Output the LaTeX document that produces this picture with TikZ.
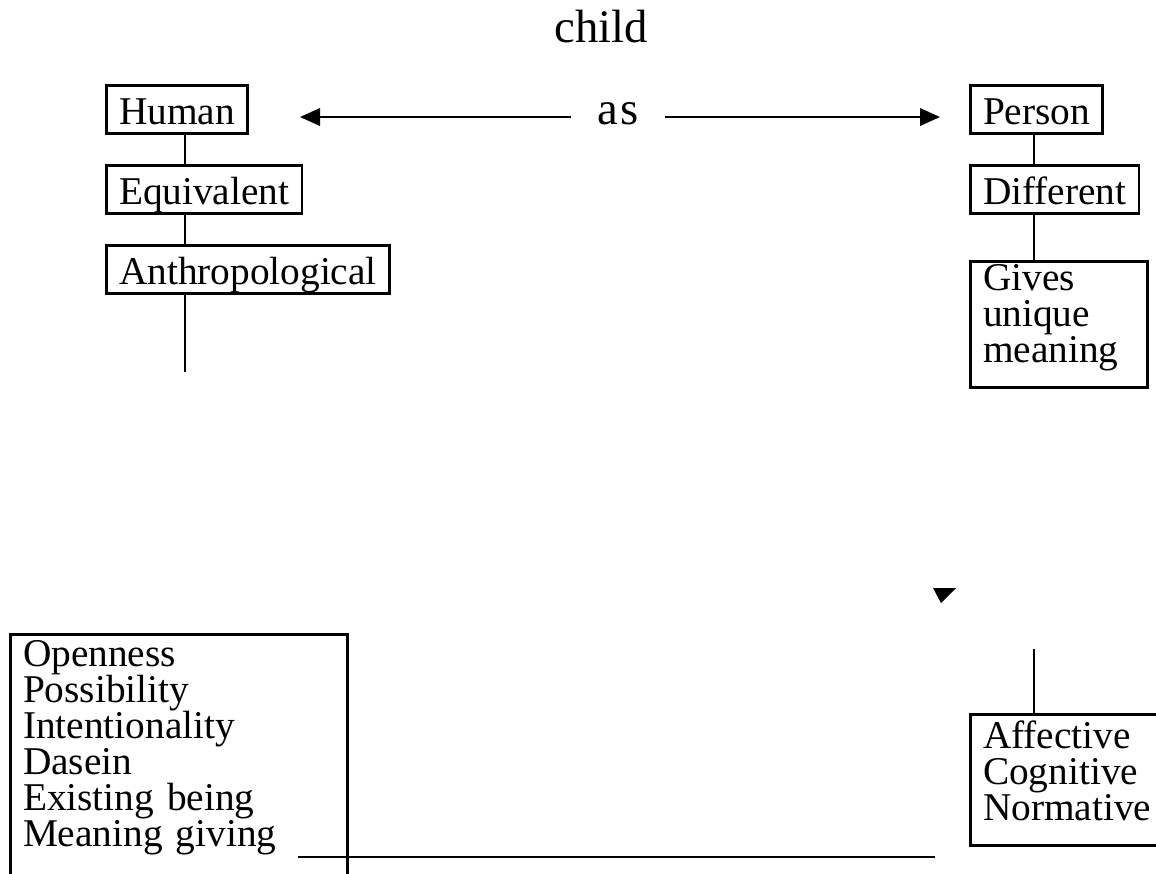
\documentclass[tikz,border=0pt]{standalone}
\usepackage{fontspec}
\setmainfont{Liberation Serif}
\usetikzlibrary{arrows.meta}

\tikzset{
  cbox/.style={draw, line width=2pt, anchor=north west, inner xsep=9.5pt,
    inner ysep=3pt, align=left, font=\fontsize{29.5}{27}\selectfont},
  onebox/.style={cbox, text height=26.25pt, text depth=3.75pt},
  headline/.style={inner sep=0pt, font=\fontsize{35}{35}\selectfont},
  link/.style={line width=2pt},
  tip/.style={-{Triangle[length=15pt,width=13pt]}}
}

\begin{document}
\begin{tikzpicture}[x=0.75pt,y=-0.75pt]
  \useasboundingbox (0,0) rectangle (1156,874);
  \node[headline] (child) at (601,27) {child};
  % left column
  \node[onebox] (human) at (105,84) {Human};
  \node[onebox] (equiv) at (105,164) {Equivalent};
  \node[onebox] (anthro) at (105,244) {Anthropological};
  % right column
  \node[onebox] (person) at (969,84) {Person};
  \node[onebox] (diff) at (969,164) {Different};
  \node[cbox, text width=114pt, inner ysep=2pt, text depth=71pt] (gives)
    at (969,260) {Gives\\unique\\meaning};
  \node[cbox, inner ysep=4.5pt, text depth=14.5pt] (affect) at (969,713)
    {Affective\\Cognitive\\Normative};
  % bottom left box
  \node[cbox, text width=234pt, inner ysep=4.5pt, text depth=175pt] (traits)
    at (9,633)
    {Openness\\Possibility\\Intentionality\\Dasein\\Existing being\\Meaning giving};
  % the 'as' double arrow
  \node[headline, inner xsep=20pt] (as) at (618,114) {a\kern1.5pt s};
  \coordinate (lhead) at (300,117);
  \coordinate (rhead) at (940,117);
  \draw[link,tip] (as.west |- lhead) -- (lhead);
  \draw[link,tip] (as.east |- rhead) -- (rhead);
  % spines
  \coordinate (lspine) at (185,0);
  \coordinate (rspine) at (1034,0);
  \draw[link] (human.south -| lspine) -- (equiv.north -| lspine);
  \draw[link] (equiv.south -| lspine) -- (anthro.north -| lspine);
  \coordinate (lstub) at (185,372);
  \draw[link] (anthro.south -| lspine) -- (lstub);
  \draw[link] (person.south -| rspine) -- (diff.north -| rspine);
  \draw[link] (diff.south -| rspine) -- (gives.north -| rspine);
  \coordinate (rstub) at (1034,649);
  \draw[link] (rstub) -- (affect.north -| rspine);
  \fill (933,588) -- (956,588) -- (941,603) -- cycle;
  \coordinate (bstart) at (298,857);
  \coordinate (bend) at (935,857);
  \draw[link] (bstart) -- (bend);
\end{tikzpicture}
\end{document}
